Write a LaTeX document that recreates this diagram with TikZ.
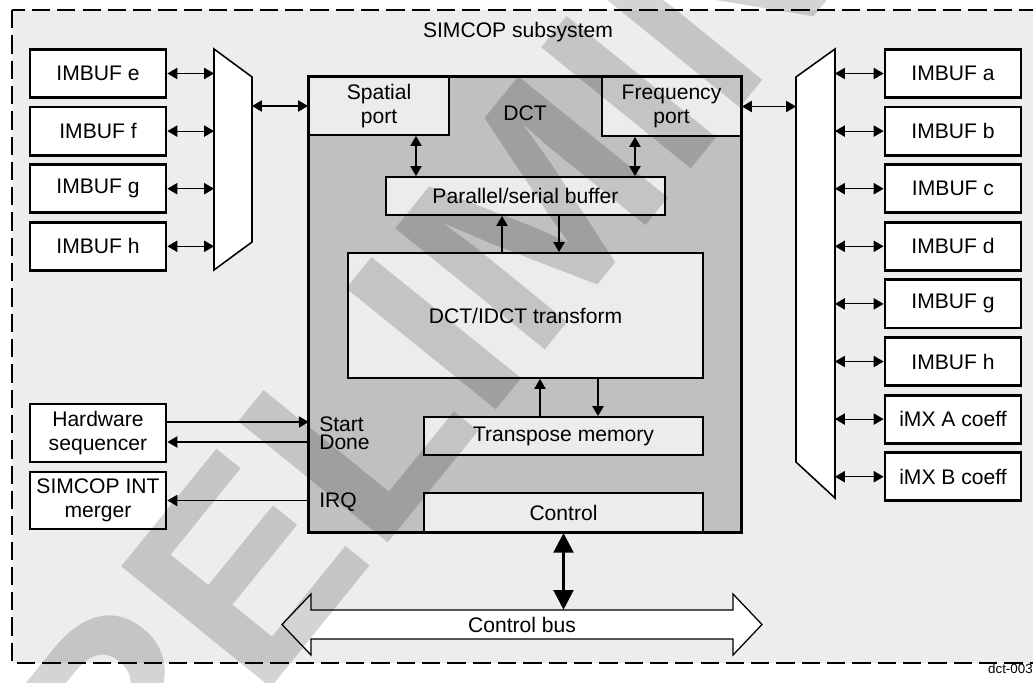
\documentclass[tikz,border=0pt]{standalone}
\usepackage{fontspec}
\setmainfont{Liberation Sans}
\usepackage{tikz}
\usetikzlibrary{calc,arrows.meta}
\definecolor{subfill}{RGB}{237,237,237}
\definecolor{dctfill}{RGB}{192,192,192}
\definecolor{blkfill}{RGB}{236,236,236}
\tikzset{
    lab/.style={
        font=\fontsize{15}{17}\selectfont
    }
}

\begin{document}
\begin{tikzpicture}[x=0.025cm, y=-0.025cm, line join=miter]

\tikzset{
  buf/.style={draw=black, fill=white, line width=2pt, minimum width=3.4cm, minimum height=1.2cm, inner sep=0pt, lab, align=center},
  blk/.style={draw=black, fill=blkfill, line width=1.4pt, inner sep=0pt, lab, align=center},
  link/.style={line width=0.8pt, {Triangle[length=7pt,width=8pt]}-{Triangle[length=7pt,width=8pt]}},
  sig/.style={line width=0.8pt, -{Triangle[length=7pt,width=8pt]}},
  mux/.style={draw=black, fill=white, line width=1.1pt},
  sigl/.style={lab, anchor=base west, inner sep=0pt},
}

\useasboundingbox (0,0) rectangle (1033,683);

% subsystem frame
\draw[fill=subfill, line width=1.4pt, dash pattern=on 13pt off 5pt] (12,10) rectangle (1036,663);
\node[lab] (title) at (518,32) {SIMCOP subsystem};
\node[font=\fontsize{9.5}{10}\selectfont, anchor=base east, inner sep=0pt] (ref) at (1033,673) {dct-003};

% DCT block
\node[fill=dctfill, minimum width=10.8cm, minimum height=11.375cm, inner sep=0pt] (dct) at (525,304.5) {};
\node[blk, minimum width=3.5cm, minimum height=1.45cm] (sp) at (379,106) {Spatial\\port};
\node[blk, minimum width=3.475cm, minimum height=1.475cm] (fp) at (671.5,106.5) {Frequency\\port};
\node[lab] (dctlab) at (525,113) {DCT};
\node[blk, minimum width=6.975cm, minimum height=0.95cm] (ps) at (525.5,196) {Parallel/serial buffer};
\node[blk, minimum width=8.875cm, minimum height=3.125cm] (tf) at (525.5,315.5) {DCT/IDCT transform};
\node[blk, minimum width=6.975cm, minimum height=0.95cm] (tm) at (563.5,436) {Transpose memory};
\node[blk, minimum width=6.975cm, minimum height=0.975cm] (ctl) at (563.5,512.5) {Control};
\draw[line width=2.3pt] (dct.north west) rectangle (dct.south east);

% muxes
\coordinate (mLa) at (214,49);
\coordinate (mLb) at (252,77);
\coordinate (mLc) at (252,242);
\coordinate (mLd) at (214,270);
\draw[mux] (mLa) -- (mLb) -- (mLc) -- (mLd) -- cycle;

\coordinate (mRa) at (796,77);
\coordinate (mRb) at (835,49);
\coordinate (mRc) at (835,498);
\coordinate (mRd) at (796,462);
\draw[mux] (mRa) -- (mRb) -- (mRc) -- (mRd) -- cycle;

% image buffers
\foreach \s [count=\i from 0] in {e,f,g,h} {
  \node[buf] (bufL\s) at (98,73.5+57.6*\i) {IMBUF \s};
  \draw[link] (bufL\s.east) -- (bufL\s.east -| mLa);
}
\foreach \t/\s [count=\i from 0] in {IMBUF a/a, IMBUF b/b, IMBUF c/c, IMBUF d/d, IMBUF g/g, IMBUF h/h, iMX A coeff/ma, iMX B coeff/mb} {
  \node[buf] (bufR\s) at (953,73.5+57.6*\i) {\t};
  \draw[link] (bufR\s.west) -- (bufR\s.west -| mRb);
}

% ports
\draw[link] (sp.west -| mLb) -- (sp.west);
\draw[link] (fp.east) -- (fp.east -| mRa);

% inside DCT
\coordinate (spA) at ($(sp.south east)+(-34,0)$);
\coordinate (fpA) at ($(fp.south west)+(34,0)$);
\draw[link] (spA) -- (spA |- ps.north);
\draw[link] (fpA) -- (fpA |- ps.north);

\coordinate (tfU) at ($(tf.north)+(-23.5,0)$);
\coordinate (tfD) at ($(tf.north)+(33.5,0)$);
\draw[sig] (tfU) -- (tfU |- ps.south);
\draw[sig] (tfD |- ps.south) -- (tfD);

\coordinate (tmU) at ($(tm.north)+(-23.5,0)$);
\coordinate (tmD) at ($(tm.north)+(34.5,0)$);
\draw[sig] (tmU) -- (tmU |- tf.south);
\draw[sig] (tmD |- tf.south) -- (tmD);

% sequencer and interrupts
\node[buf, minimum height=1.45cm] (hw) at (98,433) {Hardware\\sequencer};
\node[buf, minimum height=1.425cm] (int) at (98,500.5) {SIMCOP INT\\merger};

\coordinate (hwS) at ($(hw.east)+(0,-11)$);
\coordinate (hwD) at ($(hw.east)+(0,9)$);
\draw[sig] (hwS) -- (hwS -| dct.west);
\draw[sig] (hwD -| dct.west) -- (hwD);
\draw[sig] (int.east -| dct.west) -- (int.east);

\node[sigl] (start) at (319,431) {Start};
\node[sigl] (done) at (319,449) {Done};
\node[sigl] (irq) at (319,507) {IRQ};

% control bus
\coordinate (busC) at (522,624.5);
\draw[fill=white, line width=0.9pt] ($(busC)+(-240,0)$) -- ++(29,-30.5) -- ++(0,16) -- ++(422,0) -- ++(0,-16)
  -- ++(29,30.5) -- ++(-29,30.5) -- ++(0,-16) -- ++(-422,0) -- ++(0,16) -- cycle;
\node[lab, minimum width=10.55cm, minimum height=0.725cm, inner sep=0pt] (bus) at (busC) {Control bus};
\draw[line width=2.2pt, {Triangle[length=14pt,width=14pt]}-{Triangle[length=14pt,width=14pt]}] (ctl.south) -- (ctl.south |- bus.north);

% watermark
\begin{scope}
\clip (0,0) rectangle (1033,683);
\node[rotate=51, text=black, text opacity=0.17, font=\fontsize{199}{199}\selectfont\bfseries, inner sep=0pt] (wm) at (543,199) {PRELIMINARY};
\end{scope}

\end{tikzpicture}
\end{document}
